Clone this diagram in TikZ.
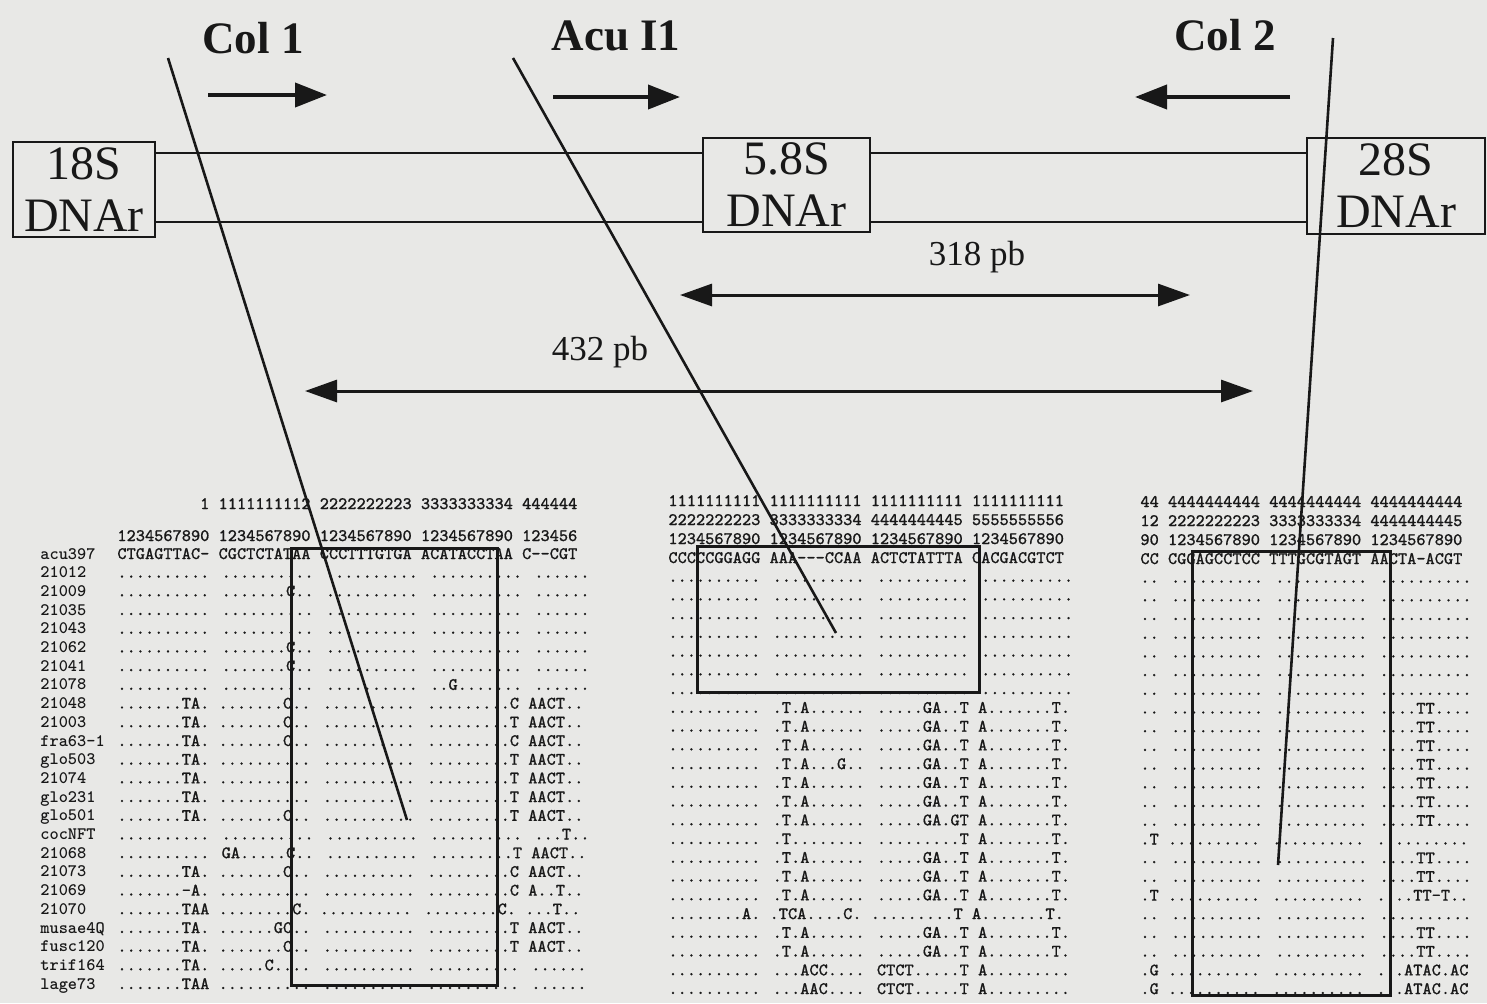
\documentclass[tikz,border=0pt]{standalone}
\usepackage{fontspec}
\setmainfont{Liberation Serif}
\newfontfamily\seqfont{Latin Modern Mono}[FakeBold=0.8]
\usetikzlibrary{arrows.meta}

\definecolor{scan}{RGB}{232,232,230}
\definecolor{ink}{RGB}{24,24,24}
\newcommand{\hy}{\mbox{-}}
\newcommand{\seq}[1]{#1}

\tikzset{
  genebox/.style={draw=ink, line width=1.4pt, inner sep=0pt, align=center,
    font=\fontsize{24}{26}\selectfont},
  spacer/.style={line width=1.3pt},
  primer/.style={inner sep=0pt, font=\fontsize{22.5}{26}\selectfont\bfseries},
  primerarrow/.style={line width=2pt, -{Triangle[length=16pt,width=12pt]}},
  span/.style={line width=1.5pt,
    {Triangle[length=16pt,width=11pt]}-{Triangle[length=16pt,width=11pt]}},
  sizelabel/.style={inner sep=0pt, font=\fontsize{17.5}{20}\selectfont},
  probe/.style={line width=1.3pt},
  window/.style={line width=1.5pt},
  seqtxt/.style={anchor=base west, inner sep=0pt,
    font=\seqfont\bfseries\fontsize{8.76}{10}\selectfont},
  seqname/.style={seqtxt, font=\ttfamily\bfseries\fontsize{8.76}{10}\selectfont},
}

\begin{document}
\begin{tikzpicture}[x=0.5pt,y=-0.5pt,color=ink]
  \fill[scan] (0,0) rectangle (1487,1003);
  \useasboundingbox (0,0) rectangle (1487,1003);

  % rDNA units
  \node[genebox, minimum width=71pt, minimum height=47.5pt] (r18) at (84,189.5) {18S\\DNAr};
  \node[genebox, minimum width=83.5pt, minimum height=47pt] (r58) at (786.5,185) {5.8S\\DNAr};
  \node[genebox, minimum width=89pt, minimum height=48pt] (r28) at (1396,186) {28S\\DNAr};
  \coordinate (itsup) at (0,153);
  \coordinate (itsdn) at (0,222);
  \draw[spacer] (r18.east |- itsup) -- (r58.west |- itsup);
  \draw[spacer] (r18.east |- itsdn) -- (r58.west |- itsdn);
  \draw[spacer] (r58.east |- itsup) -- (r28.west |- itsup);
  \draw[spacer] (r58.east |- itsdn) -- (r28.west |- itsdn);

  % primers
  \node[primer] (col1) at (253,38) {Col 1};
  \node[primer] (acu) at (616,36) {Acu I1};
  \node[primer] (col2) at (1225,35) {Col 2};
  \coordinate (col1a) at (208,95);
  \coordinate (col1b) at (327,95);
  \coordinate (acua) at (553,97);
  \coordinate (acub) at (680,97);
  \coordinate (col2a) at (1290,97);
  \coordinate (col2b) at (1135,97);
  \draw[primerarrow] (col1a) -- (col1b);
  \draw[primerarrow] (acua) -- (acub);
  \draw[primerarrow] (col2a) -- (col2b);

  % product sizes
  \node[sizelabel] (its2len) at (977,257) {318 pb};
  \coordinate (its2a) at (680,295);
  \coordinate (its2b) at (1190,295);
  \draw[span] (its2a) -- (its2b);
  \node[sizelabel] (itslen) at (600,352) {432 pb};
  \coordinate (itsa) at (305,391);
  \coordinate (itsb) at (1253,391);
  \draw[span] (itsa) -- (itsb);

  % alignment, left part
  \node[seqtxt] (lten) at (117,509) {\phantom{123456789}1 1111111112 2222222223 3333333334 444444};
  \node[seqtxt] (lunit) at (117,541) {1234567890 1234567890 1234567890 1234567890 123456};
  \foreach \lab/\s [count=\i from 0] in {
      acu397/\seq{CTGAGTTAC\hy{} CGCTCTATAA CCCTTTGTGA ACATACCTAA C\hy\hy CGT},
      21012/\seq{.......... .......... .......... .......... ......},
      21009/\seq{.......... .......C.. .......... .......... ......},
      21035/\seq{.......... .......... .......... .......... ......},
      21043/\seq{.......... .......... .......... .......... ......},
      21062/\seq{.......... .......C.. .......... .......... ......},
      21041/\seq{.......... .......C.. .......... .......... ......},
      21078/\seq{.......... .......... .......... ..G....... ......},
      21048/\seq{.......TA. .......C.. .......... .........C AACT..},
      21003/\seq{.......TA. .......C.. .......... .........T AACT..},
      fra63-1/\seq{.......TA. .......C.. .......... .........C AACT..},
      glo503/\seq{.......TA. .......... .......... .........T AACT..},
      21074/\seq{.......TA. .......... .......... .........T AACT..},
      glo231/\seq{.......TA. .......... .......... .........T AACT..},
      glo501/\seq{.......TA. .......C.. .......... .........T AACT..},
      cocNFT/\seq{.......... .......... .......... .......... ...T..},
      21068/\seq{.......... GA.....C.. .......... .........T AACT..},
      21073/\seq{.......TA. .......C.. .......... .........C AACT..},
      21069/\seq{.......\hy A. .......... .......... .........C A..T..},
      21070/\seq{.......TAA ........C. .......... ........C. ...T..},
      musae4Q/\seq{.......TA. ......GC.. .......... .........T AACT..},
      fusc120/\seq{.......TA. .......C.. .......... .........T AACT..},
      trif164/\seq{.......TA. .....C.... .......... .......... ......},
      lage73/\seq{.......TAA .......... .......... .......... ......}}
  {
    \node[seqname] (lname\i) at (40,{559+18.7*\i}) {\lab};
    \node[seqtxt] (lrow\i) at (117,{559+18.7*\i}) {\s};
  }

  % alignment, middle part
  \node[seqtxt] (mh1) at (668,506) {1111111111 1111111111 1111111111 1111111111};
  \node[seqtxt] (mh2) at (668,525) {2222222223 3333333334 4444444445 5555555556};
  \node[seqtxt] (mh3) at (668,544) {1234567890 1234567890 1234567890 1234567890};
  \foreach \s [count=\i from 0] in {
      \seq{CCCCCGGAGG AAA\hy\hy\hy CCAA ACTCTATTTA CACGACGTCT},
      \seq{.......... .......... .......... ..........},
      \seq{.......... .......... .......... ..........},
      \seq{.......... .......... .......... ..........},
      \seq{.......... .......... .......... ..........},
      \seq{.......... .......... .......... ..........},
      \seq{.......... .......... .......... ..........},
      \seq{.......... .......... .......... ..........},
      \seq{.......... .T.A...... .....GA..T A.......T.},
      \seq{.......... .T.A...... .....GA..T A.......T.},
      \seq{.......... .T.A...... .....GA..T A.......T.},
      \seq{.......... .T.A...G.. .....GA..T A.......T.},
      \seq{.......... .T.A...... .....GA..T A.......T.},
      \seq{.......... .T.A...... .....GA..T A.......T.},
      \seq{.......... .T.A...... .....GA.GT A.......T.},
      \seq{.......... .T........ .........T A.......T.},
      \seq{.......... .T.A...... .....GA..T A.......T.},
      \seq{.......... .T.A...... .....GA..T A.......T.},
      \seq{.......... .T.A...... .....GA..T A.......T.},
      \seq{........A. .TCA....C. .........T A.......T.},
      \seq{.......... .T.A...... .....GA..T A.......T.},
      \seq{.......... .T.A...... .....GA..T A.......T.},
      \seq{.......... ...ACC.... CTCT.....T A.........},
      \seq{.......... ...AAC.... CTCT.....T A.........}}
  {
    \node[seqtxt] (mrow\i) at (668,{563+18.74*\i}) {\s};
  }

  % alignment, right part
  \node[seqtxt] (rh1) at (1140,507) {44 4444444444 4444444444 4444444444};
  \node[seqtxt] (rh2) at (1140,526) {12 2222222223 3333333334 4444444445};
  \node[seqtxt] (rh3) at (1140,545) {90 1234567890 1234567890 1234567890};
  \foreach \s [count=\i from 0] in {
      \seq{CC CGGAGCCTCC TTTGCGTAGT AACTA\hy ACGT},
      \seq{.. .......... .......... ..........},
      \seq{.. .......... .......... ..........},
      \seq{.. .......... .......... ..........},
      \seq{.. .......... .......... ..........},
      \seq{.. .......... .......... ..........},
      \seq{.. .......... .......... ..........},
      \seq{.. .......... .......... ..........},
      \seq{.. .......... .......... ....TT....},
      \seq{.. .......... .......... ....TT....},
      \seq{.. .......... .......... ....TT....},
      \seq{.. .......... .......... ....TT....},
      \seq{.. .......... .......... ....TT....},
      \seq{.. .......... .......... ....TT....},
      \seq{.. .......... .......... ....TT....},
      \seq{.T .......... .......... ..........},
      \seq{.. .......... .......... ....TT....},
      \seq{.. .......... .......... ....TT....},
      \seq{.T .......... .......... ....TT\hy T..},
      \seq{.. .......... .......... ..........},
      \seq{.. .......... .......... ....TT....},
      \seq{.. .......... .......... ....TT....},
      \seq{.G .......... .......... ...ATAC.AC},
      \seq{.G .......... .......... ...ATAC.AC}}
  {
    \node[seqtxt] (rrow\i) at (1140,{564+18.7*\i}) {\s};
  }

  % primer windows
  \draw[window] (291,548) rectangle (497,985);
  \draw[window] (697,546) rectangle (979,692);
  \draw[window] (1192,551) rectangle (1390,995);

  % primer sites
  \coordinate (col1top) at (168,58);
  \coordinate (col1end) at (407,820);
  \coordinate (acutop) at (513,58);
  \coordinate (acuend) at (836,633);
  \coordinate (col2top) at (1333,38);
  \coordinate (col2end) at (1278,865);
  \draw[probe] (col1top) -- (col1end);
  \draw[probe] (acutop) -- (acuend);
  \draw[probe] (col2top) -- (col2end);
\end{tikzpicture}
\end{document}
